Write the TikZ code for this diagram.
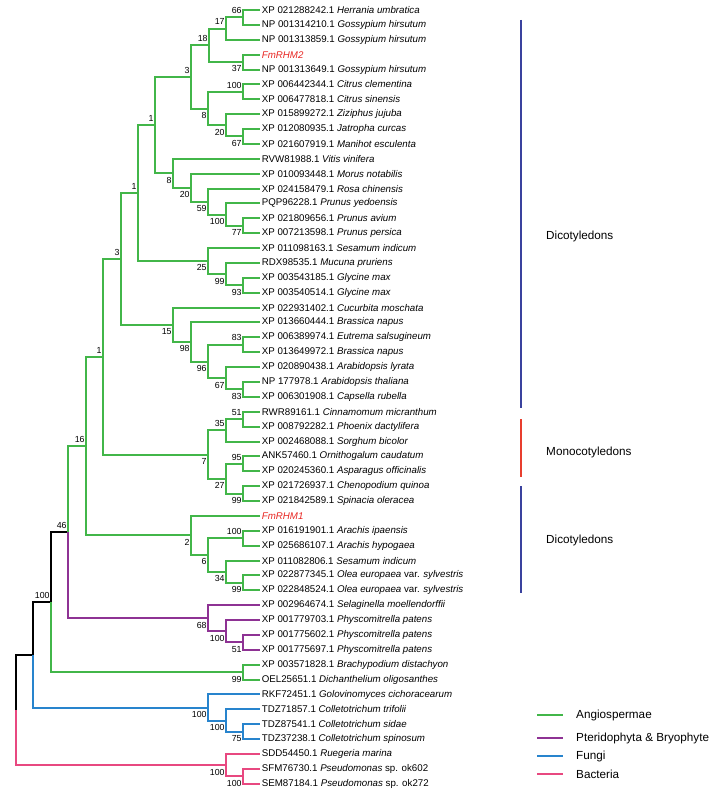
\documentclass[tikz,border=0pt]{standalone}
\usepackage{fontspec}
\setmainfont{Liberation Sans}
\definecolor{angio}{RGB}{66,182,73}
\definecolor{pterido}{RGB}{142,50,148}
\definecolor{fungi}{RGB}{40,132,205}
\definecolor{bact}{RGB}{232,72,128}
\definecolor{dicot}{RGB}{58,66,158}
\definecolor{monocot}{RGB}{232,62,46}
\definecolor{fmred}{RGB}{232,40,36}
\tikzset{
  leaf/.style={anchor=west, inner xsep=1.4pt, inner ysep=1pt, font=\fontsize{8.3}{10}\selectfont},
  bsup/.style={anchor=south east, inner xsep=1pt, inner ysep=3pt, font=\fontsize{7.5}{9}\selectfont},
  bsdn/.style={anchor=north east, inner xsep=1pt, inner ysep=3pt, font=\fontsize{7.5}{9}\selectfont},
  clade/.style={anchor=west, inner sep=0pt, font=\fontsize{10}{12}\selectfont},
  branch/.style={line width=1.7pt}
}
\begin{document}
\begin{tikzpicture}[x=0.03cm, y=-0.03cm]
  \useasboundingbox (0,0) rectangle (724,795);
  % inner nodes
  \path
    (16,709.99) coordinate (root)
    (33,654.83) coordinate (neuk)
    (51,602.16) coordinate (npl100)
    (68,532.16) coordinate (n46)
    (86,446.10) coordinate (n16)
    (103,356.75) coordinate (n1c)
    (121,258.96) coordinate (n3b)
    (138,193.10) coordinate (n1b)
    (155,125.09) coordinate (n1a)
    (191,76.96) coordinate (n3a)
    (209,45.34) coordinate (n18)
    (226,28.60) coordinate (n17)
    (243,17.44) coordinate (n66)
    (243,62.08) coordinate (n37)
    (208,108.58) coordinate (n8a)
    (243,91.84) coordinate (nc100)
    (226,125.32) coordinate (n20a)
    (243,136.48) coordinate (n67a)
    (173,173.22) coordinate (n8b)
    (191,187.63) coordinate (n20b)
    (208,201.58) coordinate (n59)
    (226,214.60) coordinate (npr100)
    (243,225.76) coordinate (n77)
    (208,261.10) coordinate (n25)
    (226,274.12) coordinate (n99a)
    (243,285.28) coordinate (n93)
    (173,324.81) coordinate (n15)
    (191,342.01) coordinate (n98)
    (208,361.54) coordinate (n96)
    (243,344.80) coordinate (n83a)
    (226,378.28) coordinate (n67b)
    (243,389.44) coordinate (n83b)
    (208,454.54) coordinate (n7)
    (226,430.36) coordinate (n35)
    (243,419.20) coordinate (n51a)
    (226,478.72) coordinate (n27)
    (243,463.84) coordinate (n95)
    (243,493.60) coordinate (n99b)
    (191,535.45) coordinate (n2)
    (208,554.98) coordinate (n6)
    (243,538.24) coordinate (nar100)
    (226,571.72) coordinate (n34)
    (243,582.88) coordinate (n99c)
    (208,618.22) coordinate (n68)
    (226,631.24) coordinate (nph100)
    (243,642.40) coordinate (n51b)
    (243,672.16) coordinate (n99d)
    (208,707.50) coordinate (nf100a)
    (226,720.52) coordinate (nf100b)
    (243,731.68) coordinate (n75)
    (226,765.16) coordinate (nb100a)
    (243,776.32) coordinate (nb100b);
  % leaves
  \path
    (260,10.00) node[leaf] (l1) {XP 021288242.1 \textit{Herrania umbratica}}
    (260,24.88) node[leaf] (l2) {NP 001314210.1 \textit{Gossypium hirsutum}}
    (260,39.76) node[leaf] (l3) {NP 001313859.1 \textit{Gossypium hirsutum}}
    (260,54.64) node[leaf, text=fmred] (l4) {\textit{FmRHM2}}
    (260,69.52) node[leaf] (l5) {NP 001313649.1 \textit{Gossypium hirsutum}}
    (260,84.40) node[leaf] (l6) {XP 006442344.1 \textit{Citrus clementina}}
    (260,99.28) node[leaf] (l7) {XP 006477818.1 \textit{Citrus sinensis}}
    (260,114.16) node[leaf] (l8) {XP 015899272.1 \textit{Ziziphus jujuba}}
    (260,129.04) node[leaf] (l9) {XP 012080935.1 \textit{Jatropha curcas}}
    (260,143.92) node[leaf] (l10) {XP 021607919.1 \textit{Manihot esculenta}}
    (260,158.80) node[leaf] (l11) {RVW81988.1 \textit{Vitis vinifera}}
    (260,173.68) node[leaf] (l12) {XP 010093448.1 \textit{Morus notabilis}}
    (260,188.56) node[leaf] (l13) {XP 024158479.1 \textit{Rosa chinensis}}
    (260,203.44) node[leaf] (l14) {PQP96228.1 \textit{Prunus yedoensis}}
    (260,218.32) node[leaf] (l15) {XP 021809656.1 \textit{Prunus avium}}
    (260,233.20) node[leaf] (l16) {XP 007213598.1 \textit{Prunus persica}}
    (260,248.08) node[leaf] (l17) {XP 011098163.1 \textit{Sesamum indicum}}
    (260,262.96) node[leaf] (l18) {RDX98535.1 \textit{Mucuna pruriens}}
    (260,277.84) node[leaf] (l19) {XP 003543185.1 \textit{Glycine max}}
    (260,292.72) node[leaf] (l20) {XP 003540514.1 \textit{Glycine max}}
    (260,307.60) node[leaf] (l21) {XP 022931402.1 \textit{Cucurbita moschata}}
    (260,322.48) node[leaf] (l22) {XP 013660444.1 \textit{Brassica napus}}
    (260,337.36) node[leaf] (l23) {XP 006389974.1 \textit{Eutrema salsugineum}}
    (260,352.24) node[leaf] (l24) {XP 013649972.1 \textit{Brassica napus}}
    (260,367.12) node[leaf] (l25) {XP 020890438.1 \textit{Arabidopsis lyrata}}
    (260,382.00) node[leaf] (l26) {NP 177978.1 \textit{Arabidopsis thaliana}}
    (260,396.88) node[leaf] (l27) {XP 006301908.1 \textit{Capsella rubella}}
    (260,411.76) node[leaf] (l28) {RWR89161.1 \textit{Cinnamomum micranthum}}
    (260,426.64) node[leaf] (l29) {XP 008792282.1 \textit{Phoenix dactylifera}}
    (260,441.52) node[leaf] (l30) {XP 002468088.1 \textit{Sorghum bicolor}}
    (260,456.40) node[leaf] (l31) {ANK57460.1 \textit{Ornithogalum caudatum}}
    (260,471.28) node[leaf] (l32) {XP 020245360.1 \textit{Asparagus officinalis}}
    (260,486.16) node[leaf] (l33) {XP 021726937.1 \textit{Chenopodium quinoa}}
    (260,501.04) node[leaf] (l34) {XP 021842589.1 \textit{Spinacia oleracea}}
    (260,515.92) node[leaf, text=fmred] (l35) {\textit{FmRHM1}}
    (260,530.80) node[leaf] (l36) {XP 016191901.1 \textit{Arachis ipaensis}}
    (260,545.68) node[leaf] (l37) {XP 025686107.1 \textit{Arachis hypogaea}}
    (260,560.56) node[leaf] (l38) {XP 011082806.1 \textit{Sesamum indicum}}
    (260,575.44) node[leaf] (l39) {XP 022877345.1 \textit{Olea europaea} var. \textit{sylvestris}}
    (260,590.32) node[leaf] (l40) {XP 022848524.1 \textit{Olea europaea} var. \textit{sylvestris}}
    (260,605.20) node[leaf] (l41) {XP 002964674.1 \textit{Selaginella moellendorffii}}
    (260,620.08) node[leaf] (l42) {XP 001779703.1 \textit{Physcomitrella patens}}
    (260,634.96) node[leaf] (l43) {XP 001775602.1 \textit{Physcomitrella patens}}
    (260,649.84) node[leaf] (l44) {XP 001775697.1 \textit{Physcomitrella patens}}
    (260,664.72) node[leaf] (l45) {XP 003571828.1 \textit{Brachypodium distachyon}}
    (260,679.60) node[leaf] (l46) {OEL25651.1 \textit{Dichanthelium oligosanthes}}
    (260,694.48) node[leaf] (l47) {RKF72451.1 \textit{Golovinomyces cichoracearum}}
    (260,709.36) node[leaf] (l48) {TDZ71857.1 \textit{Colletotrichum trifolii}}
    (260,724.24) node[leaf] (l49) {TDZ87541.1 \textit{Colletotrichum sidae}}
    (260,739.12) node[leaf] (l50) {TDZ37238.1 \textit{Colletotrichum spinosum}}
    (260,754.00) node[leaf] (l51) {SDD54450.1 \textit{Ruegeria marina}}
    (260,768.88) node[leaf] (l52) {SFM76730.1 \textit{Pseudomonas} sp. ok602}
    (260,783.76) node[leaf] (l53) {SEM87184.1 \textit{Pseudomonas} sp. ok272};
  % branches
  \begin{scope}[branch, black]
    \draw (root) |- (neuk);
    \draw (neuk) |- (npl100);
    \draw (npl100) |- (n46);
  \end{scope}
  \begin{scope}[branch, bact]
    \draw (root) |- (nb100a);
    \draw (nb100a) |- (l51) (nb100a) |- (nb100b);
    \draw (nb100b) |- (l52) (nb100b) |- (l53);
  \end{scope}
  \begin{scope}[branch, fungi]
    \draw (neuk) |- (nf100a);
    \draw (nf100a) |- (l47) (nf100a) |- (nf100b);
    \draw (nf100b) |- (l48) (nf100b) |- (n75);
    \draw (n75) |- (l49) (n75) |- (l50);
  \end{scope}
  \begin{scope}[branch, pterido]
    \draw (n46) |- (n68);
    \draw (n68) |- (l41) (n68) |- (nph100);
    \draw (nph100) |- (l42) (nph100) |- (n51b);
    \draw (n51b) |- (l43) (n51b) |- (l44);
  \end{scope}
  \begin{scope}[branch, angio]
    \draw (npl100) |- (n99d);
    \draw (n99d) |- (l45) (n99d) |- (l46);
    \draw (n46) |- (n16);
    \draw (n16) |- (n1c) (n16) |- (n2);
    \draw (n1c) |- (n3b) (n1c) |- (n7);
    \draw (n3b) |- (n1b) (n3b) |- (n15);
    \draw (n1b) |- (n1a) (n1b) |- (n25);
    \draw (n1a) |- (n3a) (n1a) |- (n8b);
    \draw (n3a) |- (n18) (n3a) |- (n8a);
    \draw (n18) |- (n17) (n18) |- (n37);
    \draw (n17) |- (n66) (n17) |- (l3);
    \draw (n66) |- (l1) (n66) |- (l2);
    \draw (n37) |- (l4) (n37) |- (l5);
    \draw (n8a) |- (nc100) (n8a) |- (n20a);
    \draw (nc100) |- (l6) (nc100) |- (l7);
    \draw (n20a) |- (l8) (n20a) |- (n67a);
    \draw (n67a) |- (l9) (n67a) |- (l10);
    \draw (n8b) |- (l11) (n8b) |- (n20b);
    \draw (n20b) |- (l12) (n20b) |- (n59);
    \draw (n59) |- (l13) (n59) |- (npr100);
    \draw (npr100) |- (l14) (npr100) |- (n77);
    \draw (n77) |- (l15) (n77) |- (l16);
    \draw (n25) |- (l17) (n25) |- (n99a);
    \draw (n99a) |- (l18) (n99a) |- (n93);
    \draw (n93) |- (l19) (n93) |- (l20);
    \draw (n15) |- (l21) (n15) |- (n98);
    \draw (n98) |- (l22) (n98) |- (n96);
    \draw (n96) |- (n83a) (n96) |- (n67b);
    \draw (n83a) |- (l23) (n83a) |- (l24);
    \draw (n67b) |- (l25) (n67b) |- (n83b);
    \draw (n83b) |- (l26) (n83b) |- (l27);
    \draw (n7) |- (n35) (n7) |- (n27);
    \draw (n35) |- (n51a) (n35) |- (l30);
    \draw (n51a) |- (l28) (n51a) |- (l29);
    \draw (n27) |- (n95) (n27) |- (n99b);
    \draw (n95) |- (l31) (n95) |- (l32);
    \draw (n99b) |- (l33) (n99b) |- (l34);
    \draw (n2) |- (l35) (n2) |- (n6);
    \draw (n6) |- (nar100) (n6) |- (n34);
    \draw (nar100) |- (l36) (nar100) |- (l37);
    \draw (n34) |- (l38) (n34) |- (n99c);
    \draw (n99c) |- (l39) (n99c) |- (l40);
  \end{scope}
  % bootstrap values
  \path
    (npl100) node[bsup] (bpl100) {100}
    (n46) node[bsup] (b46) {46}
    (n16) node[bsup] (b16) {16}
    (n1c) node[bsup] (b1c) {1}
    (n3b) node[bsup] (b3b) {3}
    (n1b) node[bsup] (b1b) {1}
    (n1a) node[bsup] (b1a) {1}
    (n3a) node[bsup] (b3a) {3}
    (n18) node[bsup] (b18) {18}
    (n17) node[bsup] (b17) {17}
    (n66) node[bsup] (b66) {66}
    (nc100) node[bsup] (bc100) {100}
    (n83a) node[bsup] (b83a) {83}
    (n35) node[bsup] (b35) {35}
    (n51a) node[bsup] (b51a) {51}
    (n95) node[bsup] (b95) {95}
    (nar100) node[bsup] (bar100) {100}
    (n37) node[bsdn] (b37) {37}
    (n8a) node[bsdn] (b8a) {8}
    (n20a) node[bsdn] (b20a) {20}
    (n67a) node[bsdn] (b67a) {67}
    (n8b) node[bsdn] (b8b) {8}
    (n20b) node[bsdn] (b20b) {20}
    (n59) node[bsdn] (b59) {59}
    (npr100) node[bsdn] (bpr100) {100}
    (n77) node[bsdn] (b77) {77}
    (n25) node[bsdn] (b25) {25}
    (n99a) node[bsdn] (b99a) {99}
    (n93) node[bsdn] (b93) {93}
    (n15) node[bsdn] (b15) {15}
    (n98) node[bsdn] (b98) {98}
    (n96) node[bsdn] (b96) {96}
    (n67b) node[bsdn] (b67b) {67}
    (n83b) node[bsdn] (b83b) {83}
    (n7) node[bsdn] (b7) {7}
    (n27) node[bsdn] (b27) {27}
    (n99b) node[bsdn] (b99b) {99}
    (n2) node[bsdn] (b2) {2}
    (n6) node[bsdn] (b6) {6}
    (n34) node[bsdn] (b34) {34}
    (n99c) node[bsdn] (b99c) {99}
    (n68) node[bsdn] (b68) {68}
    (nph100) node[bsdn] (bph100) {100}
    (n51b) node[bsdn] (b51b) {51}
    (n99d) node[bsdn] (b99d) {99}
    (nf100a) node[bsdn] (bf100a) {100}
    (nf100b) node[bsdn] (bf100b) {100}
    (n75) node[bsdn] (b75) {75}
    (nb100a) node[bsdn] (bb100a) {100}
    (nb100b) node[bsdn] (bb100b) {100};
  % clade bars
  \path
    (521,20) coordinate (dia) (521,408) coordinate (dib)
    (521,419) coordinate (moa) (521,477) coordinate (mob)
    (521,486) coordinate (dic) (521,593) coordinate (did);
  \draw[line width=1.7pt, dicot] (dia) -- (dib);
  \draw[line width=1.7pt, monocot] (moa) -- (mob);
  \draw[line width=1.7pt, dicot] (dic) -- (did);
  \node[clade] (dicot1) at (546,236) {Dicotyledons};
  \node[clade] (mono) at (546,452) {Monocotyledons};
  \node[clade] (dicot2) at (546,540) {Dicotyledons};
  % legend
  \path
    (537,715) coordinate (ga) (563,715) coordinate (gb)
    (537,738) coordinate (pa) (563,738) coordinate (pb)
    (537,756) coordinate (fa) (563,756) coordinate (fb)
    (537,774) coordinate (ba) (563,774) coordinate (bb);
  \draw[branch, angio] (ga) -- (gb);
  \draw[branch, pterido] (pa) -- (pb);
  \draw[branch, fungi] (fa) -- (fb);
  \draw[branch, bact] (ba) -- (bb);
  \node[clade] (kangio) at (576,715) {Angiospermae};
  \node[clade] (kpter) at (576,738) {Pteridophyta \& Bryophyte};
  \node[clade] (kfungi) at (576,756) {Fungi};
  \node[clade] (kbact) at (576,774) {Bacteria};
\end{tikzpicture}
\end{document}
